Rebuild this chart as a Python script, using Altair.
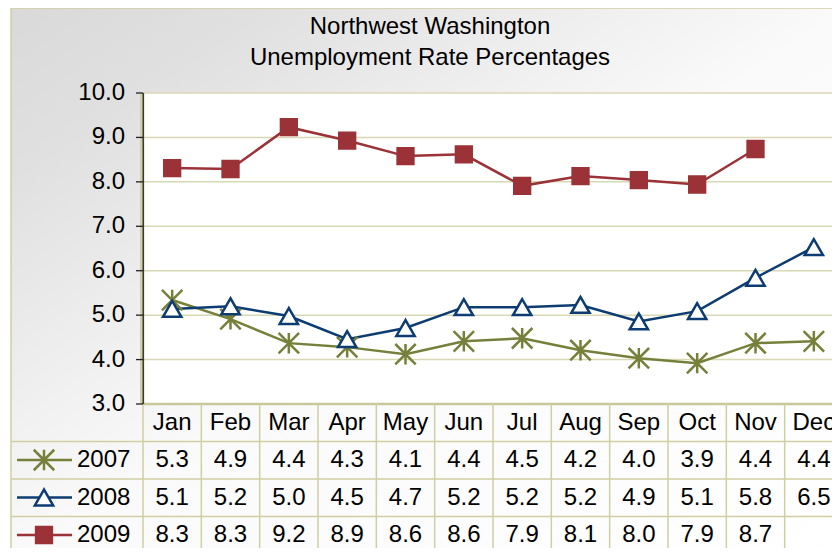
import altair as alt
import pandas as pd

# ---------------- data ----------------
months = ["Jan", "Feb", "Mar", "Apr", "May", "Jun", "Jul", "Aug", "Sep", "Oct", "Nov", "Dec"]
years = ["2007", "2008", "2009"]
rate_2007 = [5.34, 4.91, 4.37, 4.28, 4.12, 4.41, 4.48, 4.21, 4.03, 3.92, 4.37, 4.41]
rate_2008 = [5.14, 5.20, 4.98, 4.46, 4.71, 5.18, 5.18, 5.23, 4.86, 5.09, 5.84, 6.53]
rate_2009 = [8.31, 8.29, 9.23, 8.93, 8.58, 8.62, 7.91, 8.13, 8.04, 7.94, 8.74]
y_ticks = [3, 4, 5, 6, 7, 8, 9, 10]
title_lines = ["Northwest Washington", "Unemployment Rate Percentages"]

series = {"2007": rate_2007, "2008": rate_2008, "2009": rate_2009}
rows = []
for yr in years:
    for i, v in enumerate(series[yr]):
        rows.append({"month": months[i], "pos": i, "year": yr, "value": v})
df = pd.DataFrame(rows)
df_months = pd.DataFrame({"month": months, "pos": list(range(len(months))), "row": "hdr"})
df_ticks = pd.DataFrame({"tick": y_ticks})
df_years = pd.DataFrame({"year": years, "row": years})
df_one = pd.DataFrame({"a": [0]})

# ---------------- style ----------------
FONT = "Liberation Sans"
FS = 24
colors = ["#76803a", "#0c3c72", "#9b3237"]
fills = ["rgba(0,0,0,0)", "#ffffff", "#9b3237"]
star = "M-1,-1L1,1M-1,1L1,-1M0,-1L0,1"
shapes = [star, "triangle-up", "square"]
sizes = [420, 250, 290]
OLIVE = "#cfcfa4"
GRID = "#d8d8b4"

W, H = 824, 540
PX0, PX1 = 135, 835          # plot / table column extent
PY_TOP, PY_BOT = 85, 396     # plot area vertical extent
ROW = 37.5

xq = alt.Scale(domain=[-0.5, len(months) - 0.5], range=[PX0, PX1], nice=False, zero=False)
yval = alt.Scale(domain=[3, 10], range=[PY_BOT, PY_TOP], nice=False, zero=False)
row_dom = ["hdr"] + years
yrow = alt.Scale(type="point", domain=row_dom, range=[414.5, 414.5 + 3 * ROW], padding=0, round=False)
yrowband = alt.Scale(type="band", domain=row_dom, range=[PY_BOT, PY_BOT + 4 * ROW],
                     paddingInner=0, paddingOuter=0, round=False)

color_s = alt.Scale(domain=years, range=colors)
fill_s = alt.Scale(domain=years, range=fills)
shape_s = alt.Scale(domain=years, range=shapes)
size_s = alt.Scale(domain=years, range=sizes)

# background with diagonal gradient and olive border
bg = alt.Chart(df_one).mark_rect(stroke=OLIVE, strokeWidth=1.5).encode(
    x=alt.value(3), x2=alt.value(W + 20), y=alt.value(0), y2=alt.value(H + 20),
    color=alt.value(alt.LinearGradient(
        gradient="linear", x1=0, y1=0, x2=1, y2=1,
        stops=[alt.GradientStop(offset=0, color="#d9d9d9"),
               alt.GradientStop(offset=0.15, color="#e0e0e0"),
               alt.GradientStop(offset=0.5, color="#fafafa"),
               alt.GradientStop(offset=1, color="#ffffff")])),
)

plot_bg = alt.Chart(df_one).mark_rect(color="white").encode(
    x=alt.value(PX0), x2=alt.value(W + 20), y=alt.value(PY_TOP), y2=alt.value(PY_BOT)
)

grid = alt.Chart(df_ticks).mark_rule(color=GRID, strokeWidth=1.5).encode(
    y=alt.Y("tick:Q", scale=yval, axis=None),
    x=alt.value(PX0), x2=alt.value(W + 20),
)

bottom_line = alt.Chart(df_ticks).transform_filter("datum.tick == 3").mark_rule(
    color="#c8c89a", strokeWidth=2.5).encode(
    y=alt.Y("tick:Q", scale=yval, axis=None),
    x=alt.value(PX0), x2=alt.value(W + 20),
)

ticks = alt.Chart(df_ticks).mark_rule(color="#222222", strokeWidth=1.3).encode(
    y=alt.Y("tick:Q", scale=yval, axis=None),
    x=alt.value(PX0 - 7), x2=alt.value(PX0),
)

tick_labels = alt.Chart(df_ticks).mark_text(
    align="right", baseline="middle", font=FONT, fontSize=FS, color="#000000").encode(
    y=alt.Y("tick:Q", scale=yval, axis=None),
    x=alt.value(PX0 - 18),
    text=alt.Text("tick:Q", format=".1f"),
)

axis_band = alt.Chart(df_one).mark_rule(color="#cfcfa8", strokeWidth=3).encode(
    x=alt.value(PX0 - 1.5), y=alt.value(PY_TOP), y2=alt.value(PY_BOT)
)
axis_line = alt.Chart(df_one).mark_rule(color="#3a3a28", strokeWidth=1.6).encode(
    x=alt.value(PX0 + 0.3), y=alt.value(PY_TOP), y2=alt.value(PY_BOT)
)

# table grid (column separators at the left edge of each month cell)
col_lines = alt.Chart(df_months).transform_calculate(edge="datum.pos - 0.5").mark_rule(
    color=OLIVE, strokeWidth=1.5).encode(
    x=alt.X("edge:Q", scale=xq, axis=None),
    y=alt.value(PY_BOT), y2=alt.value(H + 20),
)
row_lines = alt.Chart(df_years).mark_rule(color=OLIVE, strokeWidth=1.5).encode(
    y=alt.Y("row:N", scale=yrowband, axis=None, bandPosition=0),
    x=alt.value(3), x2=alt.value(W + 20),
)

# series
lines = alt.Chart(df).mark_line(strokeWidth=2.5).encode(
    x=alt.X("pos:Q", scale=xq, axis=None),
    y=alt.Y("value:Q", scale=yval, axis=None),
    color=alt.Color("year:N", scale=color_s, legend=None),
    detail="year:N",
)
points = alt.Chart(df).mark_point(strokeWidth=2.5, opacity=1).encode(
    x=alt.X("pos:Q", scale=xq, axis=None),
    y=alt.Y("value:Q", scale=yval, axis=None),
    stroke=alt.Stroke("year:N", scale=color_s, legend=None),
    fill=alt.Fill("year:N", scale=fill_s, legend=None),
    shape=alt.Shape("year:N", scale=shape_s, legend=None),
    size=alt.Size("year:N", scale=size_s, legend=None),
)

# table text
hdr_text = alt.Chart(df_months).mark_text(
    baseline="middle", align="center", font=FONT, fontSize=FS, color="#000000").encode(
    x=alt.X("pos:Q", scale=xq, axis=None),
    y=alt.Y("row:N", scale=yrow, axis=None),
    text="month:N",
)
val_text = alt.Chart(df).mark_text(
    baseline="middle", align="center", font=FONT, fontSize=FS, color="#000000").encode(
    x=alt.X("pos:Q", scale=xq, axis=None),
    y=alt.Y("year:N", scale=yrow, axis=None),
    text=alt.Text("value:Q", format=".1f"),
)

# legend column
leg_lines = alt.Chart(df_years).mark_rule(strokeWidth=2.5).encode(
    y=alt.Y("row:N", scale=yrow, axis=None),
    x=alt.value(9), x2=alt.value(64),
    color=alt.Color("year:N", scale=color_s, legend=None),
)
leg_points = alt.Chart(df_years).mark_point(strokeWidth=2.5, opacity=1).encode(
    y=alt.Y("row:N", scale=yrow, axis=None),
    x=alt.value(36),
    stroke=alt.Stroke("year:N", scale=color_s, legend=None),
    fill=alt.Fill("year:N", scale=fill_s, legend=None),
    shape=alt.Shape("year:N", scale=shape_s, legend=None),
    size=alt.Size("year:N", scale=size_s, legend=None),
)
leg_text = alt.Chart(df_years).mark_text(
    align="left", baseline="middle", font=FONT, fontSize=FS, color="#000000").encode(
    y=alt.Y("row:N", scale=yrow, axis=None),
    x=alt.value(69),
    text="year:N",
)

# title
title1 = alt.Chart(df_one).mark_text(
    align="center", baseline="middle", font=FONT, fontSize=FS, color="#000000").encode(
    x=alt.value(422), y=alt.value(18.5), text=alt.value(title_lines[0]))
title2 = alt.Chart(df_one).mark_text(
    align="center", baseline="middle", font=FONT, fontSize=FS, color="#000000").encode(
    x=alt.value(422), y=alt.value(49.5), text=alt.value(title_lines[1]))

chart = alt.layer(
    bg, plot_bg, grid, bottom_line, col_lines, row_lines, axis_band, axis_line, ticks, tick_labels,
    lines, points, hdr_text, val_text, leg_lines, leg_points, leg_text, title1, title2,
).resolve_scale(
    y="independent", color="independent", fill="independent", stroke="independent",
    shape="independent", size="independent",
).properties(
    width=W, height=H, autosize=alt.AutoSizeParams(type="none"), padding=0,
).configure_view(strokeWidth=0)

chart.save("out.html", embed_options={"renderer": "svg", "actions": False})
